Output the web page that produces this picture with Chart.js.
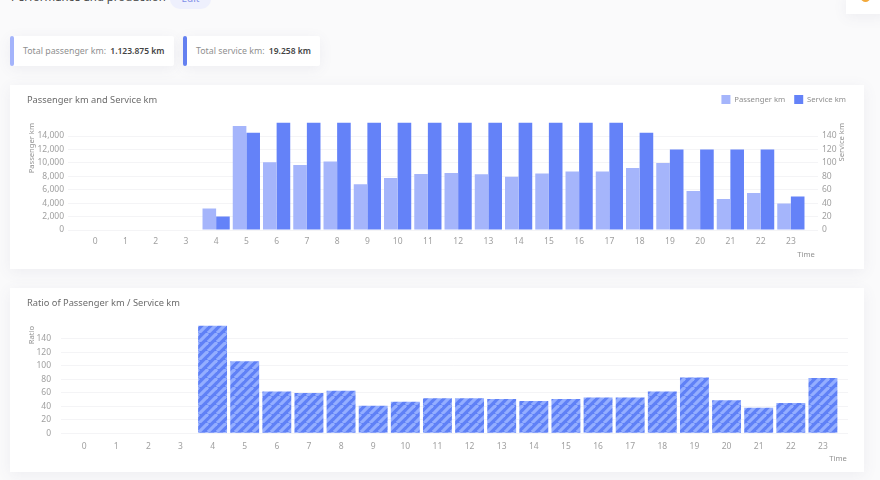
<!DOCTYPE html>
<html>
<head>
<meta charset="utf-8">
<script src="https://cdn.jsdelivr.net/npm/chart.js@4"></script>
<style>
html,body{margin:0;padding:0;width:880px;height:480px;overflow:hidden;background:#fafafb;font-family:"Noto Sans",sans-serif;}
.abs{position:absolute;white-space:nowrap;}
.card{background:#fff;box-shadow:0 3px 14px rgba(90,90,130,.08);}
.stat{height:30px;line-height:30px;font-size:8.8px;color:#8f8f8f;box-sizing:border-box;padding-left:13px;border-radius:2px;}
.stat b{color:#444;font-weight:600;font-size:8.5px;margin-left:2px;}
.stat i{position:absolute;left:0;top:0;width:4px;height:30px;border-radius:2px;}
h2{margin:0;font-weight:400;font-size:9.3px;color:#6b6b6b;}
canvas{position:absolute;left:0;top:0;}
</style>
</head>
<body>
<div class="abs" style="left:11px;top:-12px;font-size:11.4px;color:#444;line-height:18px;">Performance and production</div>
<div class="abs" style="left:170px;top:-12px;width:41px;height:21px;border-radius:10px;background:#eef0fd;color:#7f8fe8;font-size:10px;line-height:21px;text-align:center;">Edit</div>
<div class="abs card" style="left:846px;top:-6px;width:40px;height:20px;"></div>
<div class="abs" style="left:861px;top:-6px;width:9px;height:8px;border-radius:50%;background:#f2a93b;"></div>

<div class="abs card stat" style="left:10px;top:36px;width:164px;"><i style="background:#a4b4fb"></i>Total passenger km: <b>1.123.875 km</b></div>
<div class="abs card stat" style="left:183px;top:36px;width:137px;"><i style="background:#6480f0"></i>Total service km: <b>19.258 km</b></div>

<div class="abs card" style="left:10px;top:85px;width:854px;height:184px;">
  <canvas id="kmChart" width="854" height="184"></canvas>
  <h2 class="abs" style="left:17px;top:8px;">Passenger km and Service km</h2>
</div>
<div class="abs card" style="left:10px;top:288px;width:854px;height:184px;">
  <canvas id="ratioChart" width="854" height="184"></canvas>
  <h2 class="abs" style="left:17px;top:8px;">Ratio of Passenger km / Service km</h2>
</div>

<script>
const hours = ['0','1','2','3','4','5','6','7','8','9','10','11','12','13','14','15','16','17','18','19','20','21','22','23'];
const passengerKm = [0,0,0,0,3200,15500,10100,9700,10200,6800,7750,8350,8500,8300,7950,8400,8700,8700,9250,10000,5800,4600,5500,3950];
const serviceKm = [0,0,0,0,20,145,160,160,160,160,160,160,160,160,160,160,160,160,145,120,120,120,120,50];
const ratio = [0,0,0,0,160,107,62,60,63,41,47,52,52,51,48,51,53,53,62,83,49,38,45,82];

const tickColor = '#a0a0a0';
const nameColor = '#929292';
const gridColor = '#f4f4f6';
const fontFamily = '"Noto Sans", sans-serif';
Chart.defaults.font.family = fontFamily;
Chart.defaults.font.size = 8.5;
Chart.defaults.color = tickColor;

// top line of the scale is not shown in the reference
const gridNoTop = (ctx) => (ctx.tick && ctx.tick.value === ctx.scale.max) ? 'rgba(0,0,0,0)' : gridColor;
const hideTop = function (value) {
    if (value === this.max) return '';
    return value.toLocaleString('en-US');
};

// axis names sit at the scale ends, rotated the same way on both sides
const axisNames = {
    id: 'axisNames',
    afterDraw(chart, args, opts) {
        const ctx = chart.ctx;
        ctx.save();
        ctx.fillStyle = nameColor;
        ctx.font = '7.6px ' + fontFamily;
        ctx.textBaseline = 'middle';
        opts.items.forEach((it) => {
            ctx.save();
            ctx.translate(it.x, it.y);
            if (it.vertical) {
                ctx.rotate(-Math.PI / 2);
                ctx.textAlign = 'right';
            } else {
                ctx.textAlign = 'center';
            }
            ctx.fillText(it.text, 0, 0);
            ctx.restore();
        });
        ctx.restore();
    }
};

const stripes = () => {
    const size = 9;
    const c = document.createElement('canvas');
    c.width = size;
    c.height = size;
    const g = c.getContext('2d');
    g.fillStyle = '#5f80f6';
    g.fillRect(0, 0, size, size);
    g.strokeStyle = '#94aeff';
    g.lineWidth = 3.2;
    for (let i = -1; i <= 1; i++) {
        g.beginPath();
        g.moveTo(i * size, size);
        g.lineTo(i * size + size, 0);
        g.stroke();
    }
    return g.createPattern(c, 'repeat');
};

new Chart(document.getElementById('kmChart'), {
    type: 'bar',
    plugins: [axisNames],
    data: {
        labels: hours,
        datasets: [
            { label: 'Passenger km', data: passengerKm, yAxisID: 'y', backgroundColor: '#a5b5fb', categoryPercentage: 0.9, barPercentage: 1 },
            { label: 'Service km', data: serviceKm, yAxisID: 'y2', backgroundColor: '#6482f8', categoryPercentage: 0.9, barPercentage: 1 }
        ]
    },
    options: {
        responsive: false,
        animation: false,
        layout: { padding: { top: 1, right: 9 } },
        plugins: {
            tooltip: { enabled: false },
            // empty title under the legend, only a spacer down to the plot
            title: { display: true, text: '', weight: 0, padding: { top: 7.6, bottom: 0 }, font: { size: 1, lineHeight: 1 } },
            legend: {
                position: 'top',
                align: 'end',
                labels: { boxWidth: 9, boxHeight: 9, padding: 9, color: '#8f8f8f', font: { size: 7.7 } }
            },
            axisNames: {
                items: [
                    { text: 'Passenger km', x: 22, y: 38, vertical: true },
                    { text: 'Service km', x: 832, y: 38, vertical: true },
                    { text: 'Time', x: 796, y: 170 }
                ]
            }
        },
        scales: {
            x: {
                grid: { display: false, drawTicks: false },
                border: { display: false },
                ticks: { padding: 6.5, maxRotation: 0, autoSkip: false },
                afterFit: (a) => { a.height = 39; }
            },
            y: {
                min: 0, max: 16000,
                border: { display: false },
                grid: { color: gridNoTop, tickColor: gridNoTop, tickLength: 12 },
                ticks: { stepSize: 2000, padding: 4, autoSkip: false, callback: hideTop },
                afterFit: (a) => { a.width = 70; }
            },
            y2: {
                position: 'right',
                min: 0, max: 160,
                border: { display: false },
                grid: { color: gridNoTop, tickColor: gridNoTop, tickLength: 12 },
                ticks: { stepSize: 20, padding: 4, autoSkip: false, callback: hideTop },
                afterFit: (a) => { a.width = 49; }
            }
        }
    }
});

new Chart(document.getElementById('ratioChart'), {
    type: 'bar',
    plugins: [axisNames],
    data: {
        labels: hours,
        datasets: [
            { label: 'Ratio', data: ratio, backgroundColor: stripes(), categoryPercentage: 0.9, barPercentage: 1 }
        ]
    },
    options: {
        responsive: false,
        animation: false,
        layout: { padding: { top: 37.5 } },
        plugins: {
            tooltip: { enabled: false },
            legend: { display: false },
            axisNames: {
                items: [
                    { text: 'Ratio', x: 22, y: 38, vertical: true },
                    { text: 'Time', x: 828, y: 171 }
                ]
            }
        },
        scales: {
            x: {
                grid: { display: false, drawTicks: false },
                border: { display: false },
                ticks: { padding: 8, maxRotation: 0, autoSkip: false },
                afterFit: (a) => { a.height = 38.7; }
            },
            y: {
                min: 0, max: 160,
                border: { display: false },
                grid: { color: gridNoTop, tickColor: gridNoTop, tickLength: 7 },
                ticks: { stepSize: 20, padding: 10, autoSkip: false, callback: hideTop },
                afterFit: (a) => { a.width = 58; }
            },
            y2: {
                // empty axis, only carries the gridlines past the last bar
                position: 'right',
                min: 0, max: 160,
                border: { display: false },
                grid: { color: gridNoTop, tickColor: gridNoTop, tickLength: 9 },
                ticks: { stepSize: 20, padding: 0, autoSkip: false, callback: () => '' },
                afterFit: (a) => { a.width = 25; }
            }
        }
    }
});
</script>
</body>
</html>
